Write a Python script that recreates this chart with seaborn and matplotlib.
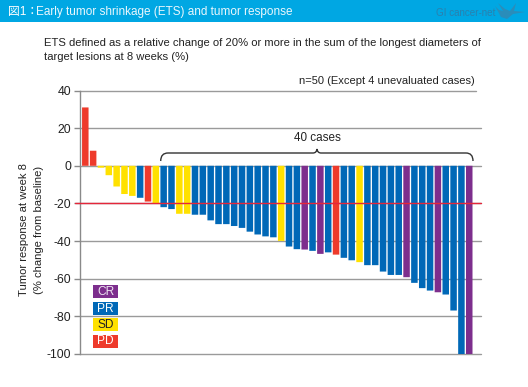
import matplotlib
matplotlib.use("Agg")
import matplotlib.pyplot as plt
from matplotlib.patches import Rectangle, PathPatch, Polygon
from matplotlib.path import Path
import pandas as pd
import seaborn as sns

values = [31, 8, -1, -5, -11, -15, -16, -17, -19, -19.8,
          -22, -23, -25.5, -25.5, -26, -26, -29, -31, -31, -32,
          -33, -35, -36.5, -37.5, -38, -39.9, -42.9, -44.3, -44.5, -45.2,
          -46.8, -46, -47.2, -48.9, -50.2, -51.2, -52.8, -52.8, -56.2, -58,
          -58, -59.2, -62.2, -65, -66.3, -67.2, -68.4, -76.9, -100, -100]
status = ["PD", "PD", "SD", "SD", "SD", "SD", "SD", "PR", "PD", "SD",
          "PR", "PR", "SD", "SD", "PR", "PR", "PR", "PR", "PR", "PR",
          "PR", "PR", "PR", "PR", "PR", "SD", "PR", "PR", "CR", "PR",
          "CR", "PR", "PD", "PR", "PR", "SD", "PR", "PR", "PR", "PR",
          "PR", "CR", "PR", "PR", "PR", "CR", "PR", "PR", "PR", "CR"]
y_ticks = [40, 20, 0, -20, -40, -60, -80, -100]
legend_labels = ["CR", "PR", "SD", "PD"]
colors = {"CR": "#7D2E8D", "PR": "#0068B7", "SD": "#FFE100", "PD": "#EE3A2B"}
legend_text = {"CR": "#EDE3F0", "PR": "#FFFFFF", "SD": "#222222", "PD": "#FFFFFF"}

W, H = 528, 387
sns.set_theme(style="white")
plt.rcParams["font.family"] = ["Liberation Sans", "Noto Sans CJK JP", "DejaVu Sans"]
plt.rcParams["axes.unicode_minus"] = False
TXT = "#222222"

fig = plt.figure(figsize=(W / 100, H / 100), dpi=100, facecolor="white")
L, R, T, B = 80, 481, 90.5, 354
ax = fig.add_axes([L / W, 1 - B / H, (R - L) / W, (B - T) / H], facecolor="none")

df = pd.DataFrame({"case": range(len(values)), "value": values, "status": status})
for t in y_ticks:
    ax.axhline(t, color="#9A9A9A", lw=1.0, zorder=0.5, clip_on=False,
               xmax=(0.988 if t == 40 else 1))
sns.barplot(data=df, x="case", y="value", hue="status", palette=colors, dodge=False,
            order=list(range(len(values))), width=0.83, legend=False, ax=ax, zorder=2,
            saturation=1, linewidth=0)
for bar in ax.patches:
    bar.set_snap(False)
ax.set_xlim(-0.677, 50.5)
ax.set_ylim(-100, 40)
ax.axhline(-20, color="#E5263A", lw=1.0, zorder=3, xmin=-0.012, clip_on=False)

for s in ["top", "right", "bottom"]:
    ax.spines[s].set_visible(False)
ax.spines["left"].set_color("#8A8A8A")
ax.spines["left"].set_linewidth(1.0)
ax.set_xticks([])
ax.set_yticks(y_ticks)
ax.set_yticklabels([str(t) for t in y_ticks], fontsize=8.8, color=TXT)
ax.tick_params(axis="y", length=4, width=1, color="#8A8A8A", pad=2.5, left=True)
ax.set_xlabel("")
ax.set_ylabel("")


def px(x, y):
    return x / W, 1 - y / H


# header band
fig.add_artist(Rectangle((0, 1 - 22 / H), 1, 22 / H, transform=fig.transFigure,
                         facecolor="#00A7E3", edgecolor="none", zorder=0))
fig.text(*px(8, 11.5), "図1：", color="white", fontsize=8.5, va="center", ha="left")
fig.text(*px(36, 11.5), "Early tumor shrinkage (ETS) and tumor response", color="#EAF7FD",
         fontsize=8.5, va="center", ha="left")
fig.text(*px(435.5, 12.5), "GI cancer-net", color="#2A80AE", fontsize=7.1, va="center", ha="left")
crane = [(495, 6), (499, 10), (503, 11), (498, 3), (505, 9), (510, 11), (516, 3), (514, 11),
         (525, 12), (513, 14), (507, 19), (501, 17)]
fig.add_artist(Polygon([px(*p) for p in crane], closed=True, transform=fig.transFigure,
                       facecolor="#2A8DBA", edgecolor="none", zorder=1))

fig.text(*px(44, 43), "ETS defined as a relative change of 20% or more in the sum of the longest diameters of",
         color=TXT, fontsize=8.1, va="center", ha="left")
fig.text(*px(44, 57), "target lesions at 8 weeks (%)", color=TXT, fontsize=8.1, va="center", ha="left")
fig.text(*px(475, 81), "n=50 (Except 4 unevaluated cases)", color=TXT, fontsize=8.0, va="center", ha="right")

fig.text(*px(24.5, 230), "Tumor response at week 8", color=TXT, fontsize=8.1, rotation=90, va="center", ha="center")
fig.text(*px(38.5, 230), "(% change from baseline)", color=TXT, fontsize=8.1, rotation=90, va="center", ha="center")

# bracket
verts = [(160.7, 161), (160.7, 153), (168, 153), (313, 153), (316.5, 153), (317, 149),
         (317.5, 153), (321, 153), (466, 153), (473, 153), (473, 161)]
codes = [Path.MOVETO, Path.CURVE3, Path.CURVE3, Path.LINETO, Path.CURVE3, Path.CURVE3,
         Path.CURVE3, Path.CURVE3, Path.LINETO, Path.CURVE3, Path.CURVE3]
fig.add_artist(PathPatch(Path([px(*v) for v in verts], codes), transform=fig.transFigure,
                         facecolor="none", edgecolor="#333333", lw=1.0, zorder=5))
fig.text(*px(317, 137.5), "40 cases", color=TXT, fontsize=8.4, va="center", ha="center")

# legend
tops = [285, 301.7, 318, 334.7]
for lab, top in zip(legend_labels, tops):
    fig.add_artist(Rectangle(px(93, top + 13), 25 / W, 13 / H, transform=fig.transFigure,
                             facecolor=colors[lab], edgecolor="none", zorder=5))
    fig.text(*px(105.5, top + 6.8), lab, color=legend_text[lab], fontsize=8.6,
             va="center", ha="center", zorder=6)

fig.savefig("out.png", dpi=100)
